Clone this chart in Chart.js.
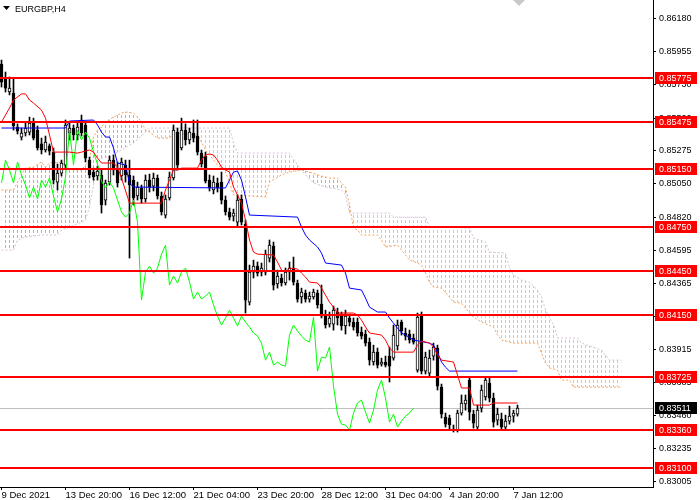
<!DOCTYPE html>
<html>
<head>
<meta charset="utf-8">
<script src="https://cdn.jsdelivr.net/npm/chart.js@4.4.0/dist/chart.umd.min.js"></script>
<style>
  html, body { margin: 0; padding: 0; background: #fff; }
  #wrap { width: 700px; height: 500px; }
</style>
</head>
<body>
<div id="wrap"><canvas id="chart" width="700" height="500"></canvas></div>
<script>
// EURGBP H4 bars, one value per bar
var opens = [
  0.85871, 0.85775, 0.85679, 0.85672, 0.85439, 0.85370, 0.85398, 0.85404, 0.85466, 0.85418,
  0.85323, 0.85281, 0.85309, 0.85267, 0.85061, 0.85123, 0.85178, 0.85398, 0.85432, 0.85384,
  0.85487, 0.85453, 0.85212, 0.85130, 0.85103, 0.85110, 0.84938, 0.85061, 0.85212, 0.85157,
  0.85103, 0.85178, 0.85110, 0.85075, 0.84966, 0.85021, 0.84945, 0.85075, 0.85034, 0.85089,
  0.84966, 0.84835, 0.84952, 0.85089, 0.85404, 0.85295, 0.85418, 0.85350, 0.85398, 0.85377,
  0.85260, 0.85240, 0.85075, 0.85007, 0.85055, 0.85061, 0.84938, 0.84856, 0.84828, 0.84787,
  0.84945, 0.84774, 0.84238, 0.84444, 0.84485, 0.84444, 0.84444, 0.84540, 0.84622, 0.84362,
  0.84403, 0.84369, 0.84444, 0.84472, 0.84369, 0.84273, 0.84300, 0.84259, 0.84273, 0.84300,
  0.84225, 0.84142, 0.84087, 0.84087, 0.84170, 0.84149, 0.84074, 0.84129, 0.84101, 0.84101,
  0.84033, 0.84019, 0.83964, 0.83827, 0.83895, 0.83813, 0.83827, 0.83868, 0.83854, 0.83937,
  0.84101, 0.84026, 0.84019, 0.83992, 0.83772, 0.84149, 0.83765, 0.83751, 0.83868, 0.83923,
  0.83655, 0.83449, 0.83443, 0.83367, 0.83360, 0.83477, 0.83539, 0.83703, 0.83470, 0.83381,
  0.83511, 0.83587, 0.83683, 0.83580, 0.83429, 0.83436, 0.83381, 0.83422, 0.83456, 0.83470
];
var highs = [
  0.85898, 0.85816, 0.85782, 0.85775, 0.85460, 0.85432, 0.85473, 0.85507, 0.85500, 0.85446,
  0.85363, 0.85377, 0.85323, 0.85295, 0.85185, 0.85212, 0.85487, 0.85473, 0.85453, 0.85473,
  0.85521, 0.85473, 0.85233, 0.85157, 0.85171, 0.85144, 0.85075, 0.85240, 0.85247, 0.85199,
  0.85226, 0.85212, 0.85212, 0.85103, 0.85061, 0.85041, 0.85110, 0.85116, 0.85123, 0.85110,
  0.84993, 0.84973, 0.85130, 0.85453, 0.85432, 0.85500, 0.85460, 0.85432, 0.85487, 0.85487,
  0.85281, 0.85267, 0.85110, 0.85103, 0.85089, 0.85130, 0.84966, 0.84883, 0.84876, 0.84973,
  0.84973, 0.84801, 0.84492, 0.84526, 0.84513, 0.84506, 0.84595, 0.84664, 0.84650, 0.84458,
  0.84430, 0.84472, 0.84513, 0.84547, 0.84389, 0.84334, 0.84321, 0.84307, 0.84327, 0.84321,
  0.84355, 0.84183, 0.84170, 0.84211, 0.84197, 0.84170, 0.84183, 0.84156, 0.84129, 0.84129,
  0.84067, 0.84046, 0.83992, 0.83943, 0.83923, 0.83854, 0.83868, 0.83930, 0.84081, 0.84115,
  0.84115, 0.84060, 0.84046, 0.84019, 0.84163, 0.84170, 0.83895, 0.83909, 0.83957, 0.83943,
  0.83676, 0.83477, 0.83463, 0.83395, 0.83497, 0.83601, 0.83601, 0.83724, 0.83497, 0.83532,
  0.83669, 0.83724, 0.83724, 0.83614, 0.83511, 0.83477, 0.83463, 0.83525, 0.83497, 0.83532
];
var lows = [
  0.85713, 0.85679, 0.85659, 0.85418, 0.85391, 0.85350, 0.85377, 0.85384, 0.85350, 0.85281,
  0.85254, 0.85267, 0.85247, 0.85048, 0.85007, 0.85103, 0.85157, 0.85350, 0.85350, 0.85350,
  0.85377, 0.85199, 0.85089, 0.85075, 0.85075, 0.84849, 0.84904, 0.85041, 0.85110, 0.85027,
  0.85075, 0.85061, 0.84540, 0.84904, 0.84938, 0.84917, 0.84924, 0.84993, 0.85000, 0.84945,
  0.84835, 0.84815, 0.84938, 0.85075, 0.85144, 0.85281, 0.85315, 0.85323, 0.85336, 0.85247,
  0.85164, 0.85055, 0.85000, 0.84980, 0.84993, 0.84911, 0.84835, 0.84801, 0.84794, 0.84760,
  0.84767, 0.84163, 0.84218, 0.84403, 0.84417, 0.84417, 0.84424, 0.84513, 0.84321, 0.84334,
  0.84348, 0.84355, 0.84389, 0.84355, 0.84238, 0.84231, 0.84238, 0.84238, 0.84259, 0.84197,
  0.84129, 0.84060, 0.84067, 0.84046, 0.84081, 0.84046, 0.84019, 0.84074, 0.84046, 0.84005,
  0.83985, 0.83937, 0.83806, 0.83806, 0.83786, 0.83799, 0.83793, 0.83690, 0.83840, 0.83909,
  0.84012, 0.83978, 0.83957, 0.83950, 0.83758, 0.83745, 0.83745, 0.83724, 0.83840, 0.83635,
  0.83443, 0.83381, 0.83367, 0.83347, 0.83347, 0.83463, 0.83497, 0.83429, 0.83374, 0.83360,
  0.83484, 0.83566, 0.83553, 0.83381, 0.83395, 0.83367, 0.83367, 0.83401, 0.83415, 0.83456
];
var closes = [
  0.85747, 0.85706, 0.85706, 0.85446, 0.85411, 0.85398, 0.85432, 0.85466, 0.85363, 0.85295,
  0.85281, 0.85336, 0.85274, 0.85075, 0.85123, 0.85192, 0.85453, 0.85432, 0.85384, 0.85439,
  0.85398, 0.85226, 0.85110, 0.85096, 0.85137, 0.84904, 0.85055, 0.85212, 0.85144, 0.85055,
  0.85199, 0.85110, 0.85041, 0.84952, 0.85027, 0.84945, 0.85075, 0.85027, 0.85089, 0.84966,
  0.84856, 0.84945, 0.85096, 0.85418, 0.85178, 0.85418, 0.85350, 0.85404, 0.85363, 0.85267,
  0.85185, 0.85068, 0.85021, 0.85061, 0.85021, 0.84938, 0.84856, 0.84821, 0.84849, 0.84938,
  0.84787, 0.84252, 0.84444, 0.84485, 0.84437, 0.84472, 0.84567, 0.84629, 0.84355, 0.84417,
  0.84369, 0.84444, 0.84472, 0.84375, 0.84259, 0.84307, 0.84259, 0.84279, 0.84307, 0.84218,
  0.84142, 0.84081, 0.84129, 0.84183, 0.84129, 0.84074, 0.84142, 0.84101, 0.84067, 0.84026,
  0.84005, 0.83957, 0.83840, 0.83895, 0.83806, 0.83827, 0.83806, 0.83799, 0.84012, 0.84081,
  0.84040, 0.84005, 0.83978, 0.83964, 0.84135, 0.83765, 0.83861, 0.83854, 0.83930, 0.83662,
  0.83470, 0.83401, 0.83395, 0.83360, 0.83477, 0.83546, 0.83566, 0.83484, 0.83408, 0.83497,
  0.83635, 0.83703, 0.83580, 0.83415, 0.83470, 0.83381, 0.83422, 0.83456, 0.83477, 0.83511
];

// Ichimoku lines: [bar, price]
var tenkan = [
  [0,0.85473],[2,0.85569],[3,0.85624],[5,0.85666],[6,0.85666],[7,0.85624],[8,0.85603],[10,0.85555],
  [11,0.85500],[12,0.85384],[13,0.85267],[17,0.85267],[19,0.85260],[20,0.85267],[22,0.85281],[23,0.85267],
  [24,0.85226],[25,0.85192],[28,0.85192],[29,0.85164],[30,0.85089],[32,0.84917],[40,0.84917],[41,0.85007],
  [42,0.85075],[43,0.85144],[44,0.85144],[45,0.85157],[49,0.85157],[50,0.85212],[51,0.85247],[52,0.85254],
  [53,0.85247],[54,0.85212],[55,0.85164],[56,0.85144],[57,0.85130],[58,0.85027],[59,0.84973],[60,0.84917],
  [61,0.84801],[62,0.84664],[63,0.84581],[64,0.84567],[68,0.84561],[69,0.84513],[70,0.84458],[71,0.84444],
  [72,0.84472],[74,0.84465],[75,0.84437],[76,0.84410],[77,0.84375],[79,0.84369],[80,0.84334],[81,0.84286],
  [82,0.84238],[83,0.84204],[84,0.84163],[88,0.84163],[89,0.84149],[90,0.84115],[91,0.84067],[92,0.84026],
  [95,0.84012],[96,0.83978],[97,0.83923],[98,0.83895],[103,0.83895],[104,0.83943],[105,0.83971],[107,0.83957],
  [108,0.83930],[109,0.83875],[110,0.83840],[113,0.83827],[114,0.83738],[115,0.83649],[117,0.83649],[118,0.83532],
  [122,0.83532],[123,0.83546],[129,0.83546]
];
var kijun = [
  [0,0.85432],[16,0.85432],[17,0.85480],[23,0.85487],[24,0.85453],[25,0.85404],[26,0.85370],[27,0.85370],
  [28,0.85295],[29,0.85192],[31,0.85178],[32,0.85055],[33,0.85027],[56,0.85021],[57,0.85075],[58,0.85130],
  [59,0.85137],[60,0.85075],[61,0.84959],[62,0.84835],[74,0.84821],[75,0.84753],[76,0.84698],[77,0.84664],
  [79,0.84616],[80,0.84574],[81,0.84506],[85,0.84492],[86,0.84437],[87,0.84334],[90,0.84321],[91,0.84266],
  [92,0.84204],[94,0.84170],[96,0.84170],[97,0.84129],[98,0.84094],[100,0.84026],[101,0.84012],[103,0.83978],
  [107,0.83957],[108,0.83943],[109,0.83895],[110,0.83827],[111,0.83792],[112,0.83765],[129,0.83765]
];
var spanA = [
  [0,0.85007],[3,0.85007],[4,0.85061],[5,0.85110],[6,0.85157],[8,0.85164],[10,0.85199],[11,0.85164],
  [12,0.85192],[15,0.85199],[16,0.85164],[18,0.85144],[20,0.85144],[21,0.85178],[22,0.85212],[23,0.85370],
  [24,0.85418],[25,0.85439],[26,0.85473],[28,0.85507],[30,0.85535],[31,0.85542],[33,0.85535],[34,0.85507],
  [35,0.85473],[36,0.85418],[37,0.85404],[39,0.85363],[42,0.85363],[43,0.85398],[49,0.85384],[50,0.85336],
  [51,0.85281],[52,0.85247],[53,0.85212],[54,0.85178],[55,0.85157],[56,0.85130],[57,0.85055],[58,0.84973],
  [66,0.84959],[67,0.85061],[70,0.85110],[72,0.85130],[75,0.85144],[77,0.85130],[80,0.85103],[82,0.85089],
  [84,0.85089],[85,0.85055],[86,0.85027],[87,0.84904],[88,0.84746],[89,0.84732],[90,0.84698],[94,0.84698],
  [95,0.84664],[96,0.84616],[99,0.84629],[100,0.84595],[102,0.84526],[104,0.84506],[105,0.84492],[106,0.84437],
  [107,0.84375],[108,0.84341],[110,0.84334],[112,0.84273],[113,0.84238],[115,0.84231],[116,0.84197],[118,0.84135],
  [120,0.84101],[123,0.84067],[124,0.84012],[125,0.83978],[128,0.83957],[134,0.83957],[135,0.83888],[136,0.83820],
  [137,0.83786],[139,0.83772],[140,0.83703],[142,0.83703],[143,0.83655],[155,0.83655]
];
var spanB = [
  [0,0.84595],[3,0.84595],[4,0.84664],[6,0.84684],[10,0.84698],[14,0.84698],[15,0.84732],[17,0.84753],
  [20,0.84787],[21,0.84801],[22,0.84890],[23,0.85041],[24,0.85192],[25,0.85226],[27,0.85233],[29,0.85267],
  [30,0.85281],[32,0.85315],[33,0.85329],[35,0.85377],[37,0.85432],[57,0.85432],[58,0.85329],[59,0.85260],
  [72,0.85260],[74,0.85178],[76,0.85110],[78,0.85055],[81,0.85027],[85,0.85007],[86,0.84973],[87,0.84849],
  [97,0.84849],[98,0.84821],[106,0.84821],[107,0.84753],[117,0.84746],[118,0.84677],[121,0.84650],[122,0.84581],
  [126,0.84574],[127,0.84472],[128,0.84424],[130,0.84389],[132,0.84375],[134,0.84321],[135,0.84273],[136,0.84183],
  [138,0.84081],[139,0.83992],[144,0.83992],[145,0.83957],[150,0.83909],[152,0.83840],[155,0.83840]
];
var chikouShift = 26;

var symbolTitle = "EURGBP,H4";
var levels = [0.85775, 0.85475, 0.85150, 0.84750, 0.84450, 0.84150, 0.83725, 0.83360, 0.83100];
var currentPrice = 0.83511;
var yTicks = [0.86180, 0.85955, 0.85730, 0.85500, 0.85275, 0.85050, 0.84820, 0.84595,
              0.84365, 0.84140, 0.83915, 0.83685, 0.83460, 0.83235, 0.83005];
var xTickIndex = [0, 16, 32, 48, 64, 80, 96, 112, 128];
var xTickText = ["9 Dec 2021", "13 Dec 20:00", "16 Dec 12:00", "21 Dec 04:00", "23 Dec 20:00",
                 "28 Dec 12:00", "31 Dec 04:00", "4 Jan 20:00", "7 Jan 12:00"];

var FONT = "'Liberation Sans', Arial, sans-serif";
var SPAN_B = 5, SPAN_A = 6;

function toPoints(pairs) {
  return pairs.map(function(p) { return { x: p[0], y: p[1] }; });
}

var bodyColors = closes.map(function(c, i) { return c >= opens[i] ? "#ffffff" : "#000000"; });

function priceLine(chart) {
  var ctx = chart.ctx, a = chart.chartArea;
  var y = Math.round(chart.scales.y.getPixelForValue(currentPrice)) + 0.5;
  ctx.save();
  ctx.strokeStyle = "#c0c0c0";
  ctx.lineWidth = 1;
  ctx.beginPath();
  ctx.moveTo(a.left, y);
  ctx.lineTo(a.right, y);
  ctx.stroke();
  ctx.restore();
}

var mt4Extras = {
  id: "mt4Extras",
  beforeDraw: function(chart) {
    var ctx = chart.ctx;
    ctx.save();
    ctx.fillStyle = "#ffffff";
    ctx.fillRect(0, 0, chart.width, chart.height);
    ctx.restore();
  },
  beforeDatasetDraw: function(chart, args) {
    var ctx = chart.ctx, a = chart.chartArea;
    if (args.index === SPAN_A) {
      // the cloud is the first thing in the plot: break its solid fill into
      // MT4-style vertical dashes (one column per bar, 3 px on / 2 px off)
      var x1 = Math.round(chart.scales.x.getPixelForValue(spanA[spanA.length - 1][0])) + 3;
      ctx.save();
      ctx.fillStyle = "#ffffff";
      for (var x = -2; x < x1; x += 4) ctx.fillRect(x, a.top, 3, a.bottom - a.top);
      for (var y = 3; y < a.bottom; y += 5) ctx.fillRect(a.left, y, x1 - a.left, 2);
      ctx.restore();
    }
    if (args.index === SPAN_B) priceLine(chart);
  },
  afterDatasetsDraw: function(chart) {
    var ctx = chart.ctx, a = chart.chartArea;
    ctx.save();
    ctx.strokeStyle = "#ff0000";
    ctx.lineWidth = 2;
    levels.forEach(function(v) {
      var y = Math.round(chart.scales.y.getPixelForValue(v));
      ctx.beginPath();
      ctx.moveTo(a.left, y);
      ctx.lineTo(a.right, y);
      ctx.stroke();
    });
    ctx.restore();
  },
  afterDraw: function(chart) {
    var ctx = chart.ctx, a = chart.chartArea;
    var x0 = a.right + 2;
    ctx.save();
    ctx.font = "9px " + FONT;
    ctx.textBaseline = "middle";
    function tag(v, bg) {
      var y = Math.round(chart.scales.y.getPixelForValue(v));
      ctx.fillStyle = bg;
      ctx.fillRect(x0, y - 6, 42, 12);
      ctx.fillStyle = "#ffffff";
      ctx.fillText(v.toFixed(5), x0 + 4, y + 0.5);
    }
    levels.forEach(function(v) { tag(v, "#ff0000"); });
    tag(currentPrice, "#000000");

    // symbol caption
    ctx.fillStyle = "#000000";
    ctx.beginPath();
    ctx.moveTo(3, 6);
    ctx.lineTo(10, 6);
    ctx.lineTo(6.5, 10);
    ctx.closePath();
    ctx.fill();
    ctx.textBaseline = "alphabetic";
    ctx.fillText(symbolTitle, 15, 12);

    // chart shift marker
    ctx.fillStyle = "#c8c8c8";
    ctx.beginPath();
    ctx.moveTo(513, 0);
    ctx.lineTo(525, 0);
    ctx.lineTo(519, 6);
    ctx.closePath();
    ctx.fill();
    ctx.restore();
  }
};

new Chart(document.getElementById("chart"), {
  type: "bar",
  data: {
    datasets: [
      {
        type: "line", label: "Tenkan-sen", data: toPoints(tenkan),
        borderColor: "#ff0000", borderWidth: 1, pointRadius: 0, tension: 0, order: 1
      },
      {
        type: "line", label: "Kijun-sen", data: toPoints(kijun),
        borderColor: "#0000ff", borderWidth: 1, pointRadius: 0, tension: 0, order: 2
      },
      {
        type: "line", label: "Chikou Span",
        data: closes.slice(chikouShift).map(function(c, k) { return { x: k, y: c }; }),
        borderColor: "#00ff00", borderWidth: 1, pointRadius: 0, tension: 0, order: 3
      },
      {
        label: "Body",
        data: opens.map(function(o, i) { return { x: i, y: [o, closes[i]] }; }),
        backgroundColor: bodyColors, borderColor: "#000000", borderWidth: 1,
        borderSkipped: false, barThickness: 3, minBarLength: 1, grouped: false, order: 5
      },
      {
        label: "Wick",
        data: lows.map(function(l, i) { return { x: i, y: [l, highs[i]] }; }),
        backgroundColor: "#000000", borderWidth: 0,
        barThickness: 1, grouped: false, order: 6
      },
      {
        type: "line", label: "Senkou Span B", data: toPoints(spanB),
        borderColor: "#d8bfd8", borderWidth: 1, borderDash: [2, 2],
        pointRadius: 0, tension: 0, fill: false, order: 9
      },
      {
        type: "line", label: "Senkou Span A", data: toPoints(spanA),
        borderColor: "#f4a460", borderWidth: 1, borderDash: [2, 2],
        pointRadius: 0, tension: 0,
        fill: { target: SPAN_B, above: "#f4a460", below: "#d8bfd8" }, order: 10
      }
    ]
  },
  options: {
    responsive: false,
    animation: false,
    devicePixelRatio: 1,
    events: [],
    layout: { padding: 0 },
    plugins: {
      legend: { display: false },
      tooltip: { enabled: false }
    },
    scales: {
      x: {
        type: "linear",
        min: -0.375,
        max: 162.875,
        offset: false,
        grid: { drawOnChartArea: false, offset: false, color: "#000000", tickLength: 3 },
        border: { display: true, color: "#000000", width: 1 },
        afterBuildTicks: function(scale) {
          scale.ticks = xTickIndex.map(function(v) { return { value: v }; });
        },
        afterFit: function(scale) {
          scale.height = 13;
          scale.paddingLeft = 0;
          scale.paddingRight = 0;
        },
        ticks: {
          autoSkip: false, maxRotation: 0, minRotation: 0, align: "start", padding: 0,
          color: "#000000", font: { family: FONT, size: 9.5 },
          callback: function(v) { return xTickText[xTickIndex.indexOf(v)]; }
        }
      },
      y: {
        type: "linear",
        position: "right",
        min: 0.8297,
        max: 0.8631,
        beginAtZero: false,
        grid: { drawOnChartArea: false, color: "#000000", tickLength: 3 },
        border: { display: true, color: "#000000", width: 1 },
        afterBuildTicks: function(scale) {
          scale.ticks = yTicks.map(function(v) { return { value: v }; });
        },
        afterFit: function(scale) {
          scale.width = 47;
          scale.paddingTop = 0;
          scale.paddingBottom = 0;
        },
        ticks: {
          padding: 3, color: "#000000", font: { family: FONT, size: 9 },
          callback: function(v) { return v.toFixed(5); }
        }
      }
    }
  },
  plugins: [mt4Extras]
});
</script>
</body>
</html>
